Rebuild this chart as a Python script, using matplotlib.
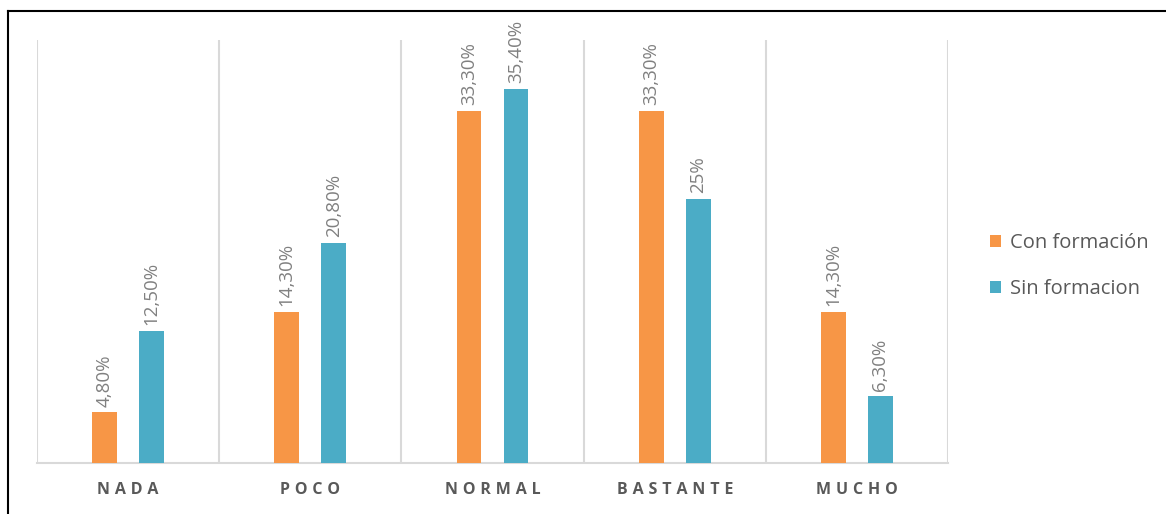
import matplotlib.pyplot as plt
from matplotlib.lines import Line2D
import numpy as np

categories = ['NADA', 'POCO', 'NORMAL', 'BASTANTE', 'MUCHO']
con_formacion = [4.8, 14.3, 33.3, 33.3, 14.3]
sin_formacion = [12.5, 20.8, 35.4, 25.0, 6.3]
con_labels = ['4,80%', '14,30%', '33,30%', '33,30%', '14,30%']
sin_labels = ['12,50%', '20,80%', '35,40%', '25%', '6,30%']

orange = '#F79646'
blue = '#4BACC6'
label_grey = '#808080'
cat_grey = '#595959'
grid_grey = '#D9D9D9'

plt.rcParams['font.family'] = ['Open Sans', 'DejaVu Sans']

fig = plt.figure(figsize=(11.66, 5.14), dpi=100)
ax = fig.add_axes([37 / 1166, 1 - 463 / 514, (948 - 37) / 1166, (463 - 40) / 514])

x = np.arange(len(categories))
w = 0.137
off = 0.129
b1 = ax.bar(x - off, con_formacion, w, color=orange, label='Con formación', zorder=3)
b2 = ax.bar(x + off, sin_formacion, w, color=blue, label='Sin formacion', zorder=3)

for bars, labels in ((b1, con_labels), (b2, sin_labels)):
    for rect, txt in zip(bars, labels):
        ax.annotate(txt, (rect.get_x() + rect.get_width() / 2, rect.get_height()),
                    xytext=(0, 4), textcoords='offset points', rotation=90,
                    ha='center', va='bottom', fontsize=13.5, color=label_grey)

ax.set_xlim(-0.5, len(categories) - 0.5)
ax.set_ylim(0, 40)
ax.set_yticks([])
ax.set_xticks(x)
spaced = ['\u2009\u200a'.join(c) for c in categories]
ax.set_xticklabels(spaced, fontsize=11.5, fontweight='bold', color=cat_grey)
ax.tick_params(axis='x', length=0, pad=14)
ax.set_xticks(np.arange(len(categories) + 1) - 0.5, minor=True)
ax.tick_params(axis='x', which='minor', length=0)
ax.grid(which='minor', axis='x', color=grid_grey, lw=1.5)
for s in ['top', 'left', 'right']:
    ax.spines[s].set_visible(False)
ax.spines['bottom'].set_color(grid_grey)
ax.spines['bottom'].set_linewidth(1.5)

fig.legend(handles=[b1, b2], loc='center left', bbox_to_anchor=(972 / 1166, 1 - 266 / 514),
           frameon=False, fontsize=14.5, labelcolor=cat_grey, handlelength=0.55,
           handleheight=0.55, handletextpad=0.45, labelspacing=1.3)

# frame lines (top and left)
fig.add_artist(Line2D([7.5 / 1166, 1.0], [1 - 11 / 514, 1 - 11 / 514], color='black', lw=1.5,
                      transform=fig.transFigure))
fig.add_artist(Line2D([7.5 / 1166, 7.5 / 1166], [0, 1 - 11 / 514], color='black', lw=1.5,
                      transform=fig.transFigure))

fig.savefig('out.png', dpi=100)
